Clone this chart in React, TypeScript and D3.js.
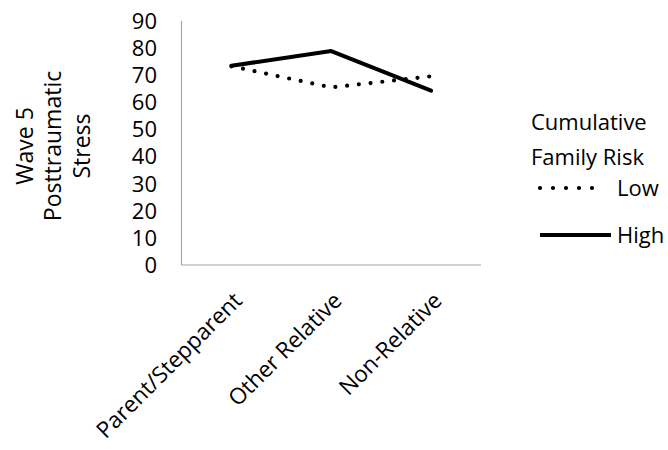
import React from "react";
import * as d3 from "d3";

const categories = ["Parent/Stepparent", "Other Relative", "Non-Relative"];
const lowRisk = [73.3, 65.5, 69.6];
const highRisk = [73.5, 78.9, 64.3];
const yTicks = [0, 10, 20, 30, 40, 50, 60, 70, 80, 90];
const yTitle = ["Wave 5", "Posttraumatic", "Stress"];
const legendTitle = ["Cumulative", "Family Risk"];
const seriesNames = ["Low", "High"];

const W = 668;
const H = 450;
const FONT = "'Open Sans', sans-serif";

export default function App() {
  const x = d3.scalePoint<string>().domain(categories).range([181.5, 481]).padding(0.5);
  const y = d3.scaleLinear().domain([0, 90]).range([265, 21]);
  const line = d3
    .line<number>()
    .x((_, i) => x(categories[i]) as number)
    .y((d) => y(d));

  return (
    <svg
      width={W}
      height={H}
      style={{ position: "absolute", left: 0, top: 0, background: "#fff" }}
      fontFamily={FONT}
    >
      {/* axes */}
      <line x1={181.5} x2={181.5} y1={y(90)} y2={y(0)} stroke="#a6a6a6" strokeWidth={1.2} />
      <line x1={181.5} x2={481} y1={y(0)} y2={y(0)} stroke="#a6a6a6" strokeWidth={1.2} />

      {/* y tick labels */}
      {yTicks.map((t) => (
        <text key={t} x={157} y={y(t)} dy="0.36em" textAnchor="end" fontSize={22} fill="#000">
          {t}
        </text>
      ))}

      {/* y title */}
      <g transform={`translate(53,146) rotate(-90)`}>
        {yTitle.map((s, i) => (
          <text key={s} x={0} y={(i - 1) * 28.5} dy="0.36em" textAnchor="middle" fontSize={23} fill="#000">
            {s}
          </text>
        ))}
      </g>

      {/* category labels */}
      {categories.map((c) => (
        <text
          key={c}
          transform={`translate(${(x(c) as number) + 12},${302}) rotate(-45)`}
          textAnchor="end"
          fontSize={22.5}
          fill="#000"
        >
          {c}
        </text>
      ))}

      {/* series */}
      <path
        d={line(lowRisk) || ""}
        fill="none"
        stroke="#000"
        strokeWidth={4.2}
        strokeLinecap="round"
        strokeDasharray="0 11.8"
      />
      <path d={line(highRisk) || ""} fill="none" stroke="#000" strokeWidth={4} strokeLinecap="round" strokeLinejoin="round" />

      {/* legend */}
      {legendTitle.map((s, i) => (
        <text key={s} x={531} y={130 + i * 35} fontSize={22} fill="#000">
          {s}
        </text>
      ))}
      <line x1={540} x2={605} y1={188} y2={188} stroke="#000" strokeWidth={4.2} strokeLinecap="round" strokeDasharray="0 13" />
      <text x={617} y={188} dy="0.36em" fontSize={22} fill="#000">
        {seriesNames[0]}
      </text>
      <line x1={540} x2={611} y1={235} y2={235} stroke="#000" strokeWidth={4} />
      <text x={617} y={235} dy="0.36em" fontSize={22} fill="#000">
        {seriesNames[1]}
      </text>
    </svg>
  );
}
